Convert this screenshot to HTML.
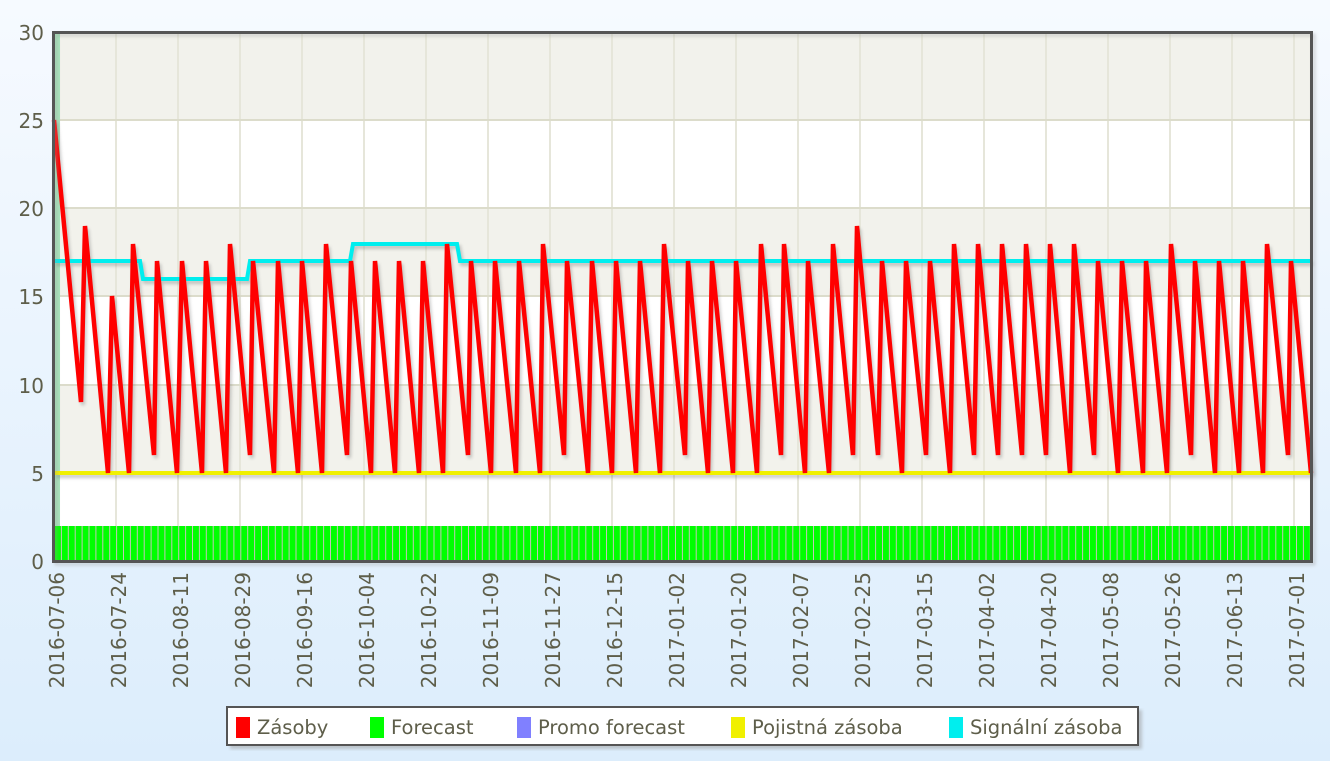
<!DOCTYPE html>
<html><head><meta charset="utf-8"><style>
html,body{margin:0;padding:0;width:1330px;height:761px;overflow:hidden}
body{background:linear-gradient(#f6faff,#dcedfc)}
svg{position:absolute;left:0;top:0}
text{font-family:"DejaVu Sans","Liberation Sans",sans-serif;fill:#5e5e4a}
</style></head><body>
<svg width="1330" height="761" viewBox="0 0 1330 761">
<defs>
<filter id="sh" x="-5%" y="-5%" width="110%" height="110%"><feGaussianBlur stdDeviation="1.5"/></filter>
</defs>
<rect x="54" y="32" width="1258" height="529" fill="#fff"/>
<rect x="54" y="32" width="1258" height="88" fill="#f2f2ec"/>
<rect x="54" y="208" width="1258" height="88" fill="#f2f2ec"/>
<rect x="54" y="385" width="1258" height="88" fill="#f2f2ec"/>
<g stroke="#e6e6da" stroke-width="2">
<line x1="116" y1="32" x2="116" y2="561"/><line x1="178" y1="32" x2="178" y2="561"/><line x1="240" y1="32" x2="240" y2="561"/><line x1="302" y1="32" x2="302" y2="561"/><line x1="364" y1="32" x2="364" y2="561"/><line x1="426" y1="32" x2="426" y2="561"/><line x1="488" y1="32" x2="488" y2="561"/><line x1="550" y1="32" x2="550" y2="561"/><line x1="612" y1="32" x2="612" y2="561"/><line x1="674" y1="32" x2="674" y2="561"/><line x1="736" y1="32" x2="736" y2="561"/><line x1="798" y1="32" x2="798" y2="561"/><line x1="860" y1="32" x2="860" y2="561"/><line x1="922" y1="32" x2="922" y2="561"/><line x1="984" y1="32" x2="984" y2="561"/><line x1="1046" y1="32" x2="1046" y2="561"/><line x1="1108" y1="32" x2="1108" y2="561"/><line x1="1170" y1="32" x2="1170" y2="561"/><line x1="1232" y1="32" x2="1232" y2="561"/><line x1="1294" y1="32" x2="1294" y2="561"/>
</g>
<g stroke="#dcdccb" stroke-width="2">
<line x1="54" y1="120" x2="1312" y2="120"/><line x1="54" y1="208" x2="1312" y2="208"/><line x1="54" y1="296" x2="1312" y2="296"/><line x1="54" y1="385" x2="1312" y2="385"/><line x1="54" y1="473" x2="1312" y2="473"/>
</g>
<rect x="54" y="32" width="6" height="529" fill="#a8e4bc"/>
<rect x="55" y="526" width="1256" height="35" fill="#c4c4b8"/>
<g id="bars" fill="#00ff00"></g>
<g filter="url(#sh)" opacity="0.35" transform="translate(2,3)" fill="none" stroke="#666" stroke-width="4">
<line x1="54" y1="473" x2="1311" y2="473"/>
<polyline points="54,261 140,261 143,279 247,279 250,261 350,261 353,244 457,244 460,261 1311,261"/>
<polyline id="redsh" points=""/>
</g>
<line x1="54" y1="473" x2="1311" y2="473" stroke="#f0f000" stroke-width="4"/>
<polyline fill="none" stroke="#00eeee" stroke-width="4" points="54,261 140,261 143,279 247,279 250,261 350,261 353,244 457,244 460,261 1311,261"/>
<polyline id="red" fill="none" stroke="#ff0000" stroke-width="4.5" stroke-linejoin="miter" points="54,120 81,402 85,226 108,473 112,296 129,473 133,244 154,455 157,261 177,473 182,261 202,473 206,261 226,473 230,244 250,455 253,261 274,473 278,261 298,473 302,261 322,473 326,244 347,455 351,261 371,473 375,261 395,473 399,261 419,473 423,261 443,473 447,244 468,455 471,261 491,473 495,261 516,473 519,261 540,473 543,244 564,455 567,261 588,473 592,261 612,473 616,261 636,473 640,261 660,473 664,244 685,455 688,261 708,473 712,261 733,473 736,261 757,473 761,244 781,455 784,244 805,473 808,261 829,473 833,244 853,455 857,226 878,455 882,261 902,473 906,261 926,455 930,261 950,473 954,244 974,455 978,244 998,455 1002,244 1022,455 1026,244 1046,455 1050,244 1070,473 1074,244 1094,455 1098,261 1118,473 1122,261 1143,473 1146,261 1167,473 1171,244 1191,455 1195,261 1215,473 1219,261 1239,473 1243,261 1263,473 1267,244 1288,455 1291,261 1311,473"/>
<rect x="56" y="35" width="1258" height="529" fill="none" stroke="#999" stroke-width="3" opacity="0.4" filter="url(#sh)"/>
<rect x="53.5" y="32.5" width="1258" height="529" fill="none" stroke="#555" stroke-width="3"/>
<g font-size="20" text-anchor="end">
<text x="44" y="40">30</text><text x="44" y="128">25</text><text x="44" y="216">20</text><text x="44" y="304">15</text><text x="44" y="393">10</text><text x="44" y="481">5</text><text x="44" y="569">0</text>
</g>
<g font-size="20" text-anchor="end" id="xl"></g>
<rect x="230" y="710" width="912" height="39" fill="#999" opacity="0.5" filter="url(#sh)"/>
<rect x="227" y="707" width="911" height="38" fill="#fff" stroke="#555" stroke-width="2"/>
<g font-size="19.5">
<rect x="236" y="717" width="14" height="21" fill="#ff0000"/><text x="257" y="734">Zásoby</text>
<rect x="370" y="717" width="14" height="21" fill="#00ff00"/><text x="391" y="734">Forecast</text>
<rect x="517" y="717" width="14" height="21" fill="#8080ff"/><text x="538" y="734">Promo forecast</text>
<rect x="731" y="717" width="14" height="21" fill="#f0f000"/><text x="752" y="734">Pojistná zásoba</text>
<rect x="949" y="717" width="14" height="21" fill="#00eeee"/><text x="970" y="734">Signální zásoba</text>
</g>
</svg>
<script>
var ns="http://www.w3.org/2000/svg";
var g=document.getElementById("bars");
for(var i=0;i<182;i++){var x=55+i*6.9;if(x>1310)break;var r=document.createElementNS(ns,"rect");r.setAttribute("x",x.toFixed(1));r.setAttribute("y",526);r.setAttribute("width",Math.min(5.9,1311-x).toFixed(1));r.setAttribute("height",35);g.appendChild(r);}
document.getElementById("redsh").setAttribute("points",document.getElementById("red").getAttribute("points"));
var labels=["2016-07-06","2016-07-24","2016-08-11","2016-08-29","2016-09-16","2016-10-04","2016-10-22","2016-11-09","2016-11-27","2016-12-15","2017-01-02","2017-01-20","2017-02-07","2017-02-25","2017-03-15","2017-04-02","2017-04-20","2017-05-08","2017-05-26","2017-06-13","2017-07-01"];
var xl=document.getElementById("xl");
for(var k=0;k<labels.length;k++){var cx=54+62*k+10;var t=document.createElementNS(ns,"text");t.setAttribute("transform","translate("+cx+",572) rotate(-90)");t.textContent=labels[k];xl.appendChild(t);}
</script>
</body></html>
